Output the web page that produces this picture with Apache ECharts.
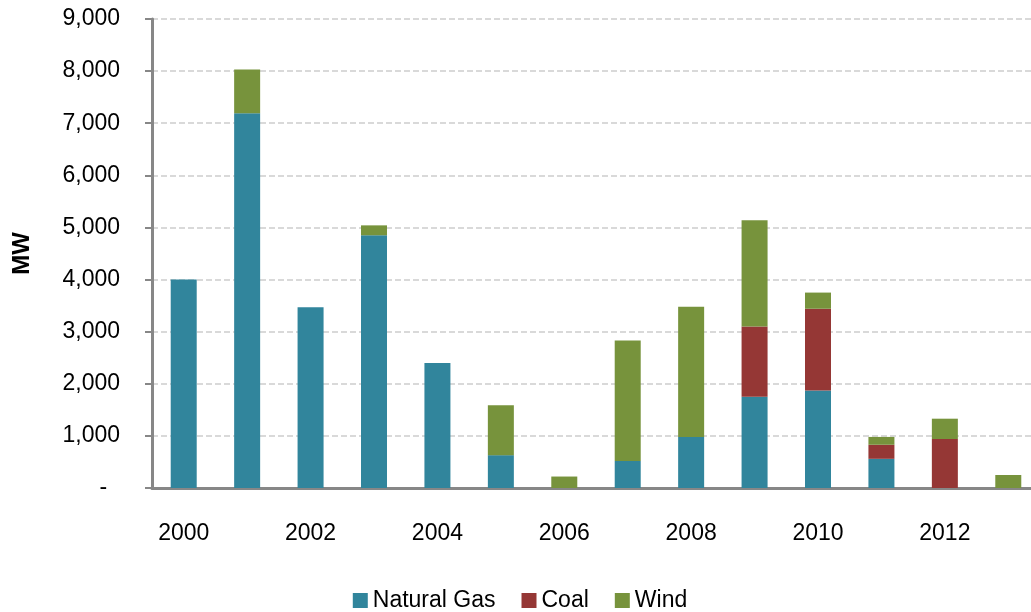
<!DOCTYPE html>
<html lang="en">
<head>
    <meta charset="UTF-8">
    <title>MW by year</title>
    <script src="https://cdn.jsdelivr.net/npm/echarts@6/dist/echarts.min.js"></script>
    <style>
        html, body { margin: 0; padding: 0; background: #ffffff; overflow: hidden; }
        /* the plot runs a little past the right edge of the picture, like the original */
        #chart { width: 1040px; height: 612px; }
    </style>
</head>
<body>
    <div id="chart"></div>

    <script>
        const years = ['2000', '2001', '2002', '2003', '2004', '2005', '2006',
                       '2007', '2008', '2009', '2010', '2011', '2012', '2013'];
        const naturalGas = [4000, 7190, 3470, 4850, 2400, 630, 0, 520, 980, 1750, 1870, 560, 0, 0];
        const coal       = [0, 0, 0, 0, 0, 0, 0, 0, 0, 1350, 1570, 270, 940, 0];
        const wind       = [0, 840, 0, 190, 0, 960, 220, 2310, 2500, 2040, 310, 150, 390, 250];

        const font = 'Liberation Sans, Arial, sans-serif';
        const chart = echarts.init(document.getElementById('chart'));

        chart.setOption({
            animation: false,
            grid: { left: 152, right: 0, top: 19, bottom: 124 },
            legend: {
                top: 589,
                left: 'center',
                padding: [0, 5],
                itemWidth: 15,
                itemHeight: 15,
                itemGap: 26,
                icon: 'rect',
                textStyle: { fontFamily: font, fontSize: 23, color: '#000000' },
                data: ['Natural Gas', 'Coal', 'Wind']
            },
            xAxis: {
                type: 'category',
                data: years,
                axisLine: { lineStyle: { color: '#878787', width: 3 } },
                axisTick: { interval: 0, length: 8, lineStyle: { color: '#878787', width: 2 } },
                axisLabel: {
                    interval: 1,
                    margin: 34,
                    color: '#000000',
                    fontFamily: font,
                    fontSize: 23
                }
            },
            yAxis: {
                type: 'value',
                min: 0,
                max: 9000,
                interval: 1000,
                name: 'MW',
                nameLocation: 'middle',
                nameGap: 118,
                nameRotate: 90,
                nameTextStyle: { fontFamily: font, fontSize: 24, fontWeight: 'bold', color: '#000000' },
                axisLine: { show: true, lineStyle: { color: '#878787', width: 3 } },
                axisTick: { show: true, length: 7, lineStyle: { color: '#878787', width: 2 } },
                axisLabel: {
                    margin: 32,
                    color: '#000000',
                    fontFamily: font,
                    fontSize: 23,
                    formatter: v => v === 0 ? '-  ' : v.toLocaleString('en-US')
                },
                splitLine: { lineStyle: { color: '#d9d9d9', width: 2, type: [6, 3] } }
            },
            series: [
                { name: 'Natural Gas', type: 'bar', stack: 'total', data: naturalGas,
                  barWidth: 26, itemStyle: { color: '#31859c' } },
                { name: 'Coal', type: 'bar', stack: 'total', data: coal,
                  barWidth: 26, itemStyle: { color: '#953735' } },
                { name: 'Wind', type: 'bar', stack: 'total', data: wind,
                  barWidth: 26, itemStyle: { color: '#77933c' } }
            ]
        });
    </script>
</body>
</html>
